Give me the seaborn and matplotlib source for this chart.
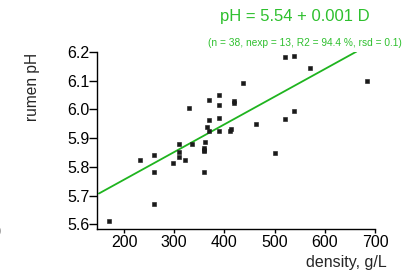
"""Rumen pH vs density scatter with regression line."""

import matplotlib
matplotlib.use("Agg")
import matplotlib.pyplot as plt
import numpy as np
import pandas as pd
import seaborn as sns

# points
density = [170, 231, 259, 259, 259, 298, 310, 310, 310, 322, 330, 335, 361, 359, 360,
           359, 366, 370, 370, 370, 389, 389, 389, 389, 420, 411, 413, 436, 462, 500,
           520, 520, 539, 539, 571, 683, 360, 419]
ph = [5.612, 5.823, 5.840, 5.782, 5.670, 5.812, 5.880, 5.853, 5.835, 5.825, 6.004, 5.881,
      5.887, 5.856, 5.866, 5.783, 5.939, 5.963, 5.925, 6.033, 6.052, 6.015, 5.970, 5.925,
      6.022, 5.926, 5.932, 6.093, 5.948, 5.847, 6.183, 5.968, 6.185, 5.996, 6.143, 6.099,
      5.860, 6.028]

# fitted line ends as drawn (pH = 5.54 + 0.001 D)
fit_x = [150, 663]
fit_y = [5.707, 6.202]

x_ticks = [200, 300, 400, 500, 600, 700]
y_ticks = [5.6, 5.7, 5.8, 5.9, 6.0, 6.1, 6.2]

sns.set_style("ticks")
plt.rcParams["font.family"] = ["Liberation Sans", "DejaVu Sans"]

df = pd.DataFrame({"density": density, "ph": ph})
fit = pd.DataFrame({"x": fit_x, "y": fit_y})

fig = plt.figure(figsize=(4.09, 2.73), dpi=100)
ax = fig.add_axes([0.237, 0.161, 0.68, 0.648])

sns.lineplot(data=fit, x="x", y="y", ax=ax, color="#1fb41f", linewidth=1.3)
sns.scatterplot(data=df, x="density", y="ph", ax=ax, color="#1a1a1a", marker="s",
                s=10, edgecolor="#1a1a1a", linewidth=0.4, clip_on=False, zorder=3)

ax.set_xlim(146, 700)
ax.set_ylim(5.583, 6.2)
ax.set_xticks(x_ticks)
ax.set_yticks(y_ticks)
ax.set_yticklabels([f"{v:.1f}" for v in y_ticks])
ax.tick_params(axis="y", length=5.5, width=1, pad=0, labelsize=11.5, colors="black")
ax.tick_params(axis="x", length=3, width=1, pad=1, labelsize=11.5, colors="black")
for side in ("left", "bottom"):
    ax.spines[side].set_linewidth(1)
    ax.spines[side].set_color("black")
sns.despine(ax=ax)
ax.set_xlabel("")
ax.set_ylabel("")

fig.text(33 / 409, 1 - 87 / 273, "rumen pH", rotation=90, ha="center", va="center", fontsize=11.2)
fig.text(387 / 409, 1 - 263 / 273, "density, g/L", ha="right", va="center", fontsize=11.5)
fig.text(295 / 409, 1 - 17 / 273, "pH = 5.54 + 0.001 D", ha="center", va="center",
         fontsize=12, color="#2ec02e")
fig.text(305 / 409, 1 - 43 / 273, "(n = 38, nexp = 13, R2 = 94.4 %, rsd = 0.1)",
         ha="center", va="center", fontsize=7.3, color="#2ec02e")
fig.text(-0.006, 1 - 231 / 273, ")", ha="left", va="center", fontsize=7, color="#777777")

fig.savefig("out.png", dpi=100)
